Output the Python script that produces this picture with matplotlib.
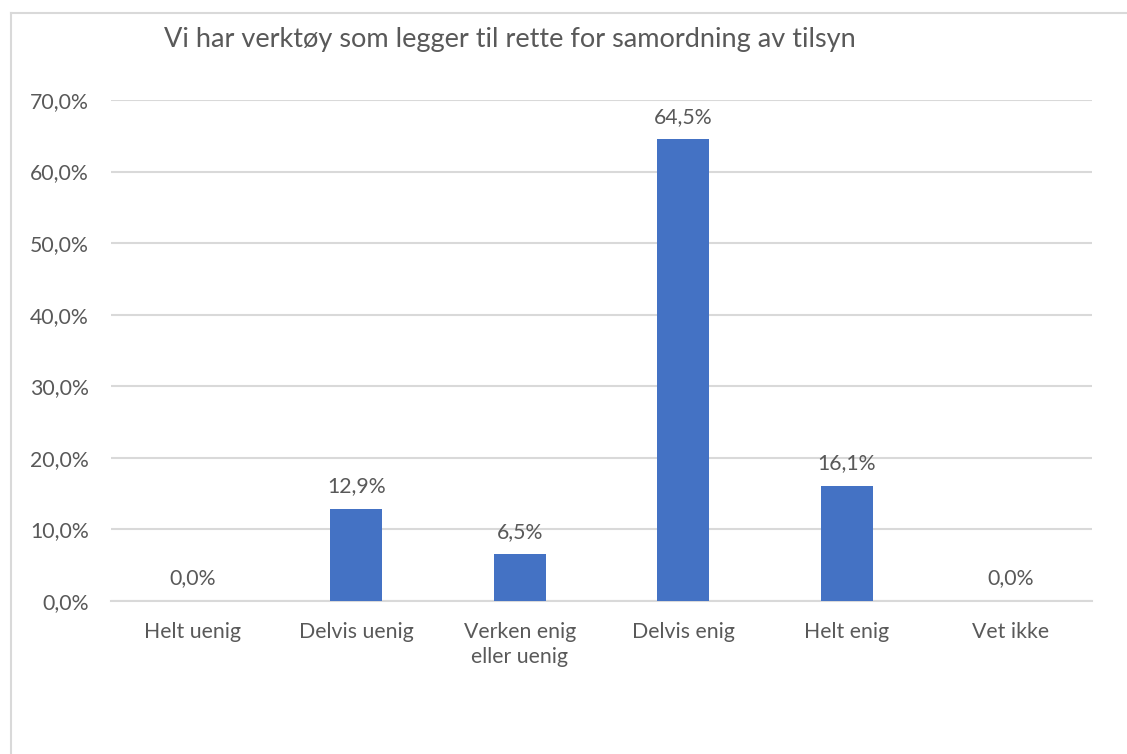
import matplotlib
matplotlib.use("Agg")
import matplotlib.pyplot as plt
from matplotlib.lines import Line2D
import numpy as np

categories = ["Helt uenig", "Delvis uenig", "Verken enig\neller uenig",
              "Delvis enig", "Helt enig", "Vet ikke"]
values = [0.0, 12.9, 6.5, 64.5, 16.1, 0.0]
yticks = [0, 10, 20, 30, 40, 50, 60, 70]
title = "Vi har verktøy som legger til rette for samordning av tilsyn"

plt.rcParams['font.family'] = ['Lato', 'DejaVu Sans']
text_color = '#595959'
grid_color = '#D9D9D9'
bar_color = '#4472C4'

fig = plt.figure(figsize=(11.27, 7.54), dpi=100)
ax = fig.add_axes([0.0985, 0.2029, 0.8705, 0.6645])

x = np.arange(len(categories))
ax.bar(x, values, width=0.32, color=bar_color, zorder=3)

for xi, v in zip(x, values):
    ax.annotate(f"{v:.1f}%".replace(".", ","), (xi, v), xytext=(0, 9),
                textcoords='offset points', ha='center', va='bottom',
                fontsize=15.3, color=text_color)

ax.set_xlim(-0.5, len(categories) - 0.5)
ax.set_ylim(0, 70)
ax.set_yticks(yticks)
ax.set_yticklabels([f"{t:.1f}%".replace(".", ",") for t in yticks])
ax.set_xticks(x)
ax.set_xticklabels(categories, linespacing=1.35)
ax.tick_params(axis='both', length=0, labelsize=15.3, labelcolor=text_color)
ax.tick_params(axis='y', pad=16)
ax.tick_params(axis='x', pad=15)
ax.grid(axis='y', color=grid_color, linewidth=1.5, zorder=0)
for side in ['top', 'right', 'left']:
    ax.spines[side].set_visible(False)
ax.spines['bottom'].set_color(grid_color)
ax.spines['bottom'].set_linewidth(1.5)

fig.text(0.4525, 0.947, title, ha='center', va='center', fontsize=19.5, color=text_color)

# chart border (cropped on right and bottom)
fig.add_artist(Line2D([0.0098, 0.0098], [0, 0.983], color=grid_color, lw=1.5))
fig.add_artist(Line2D([0.0098, 1.0], [0.983, 0.983], color=grid_color, lw=1.5))

fig.savefig("out.png", dpi=100)
